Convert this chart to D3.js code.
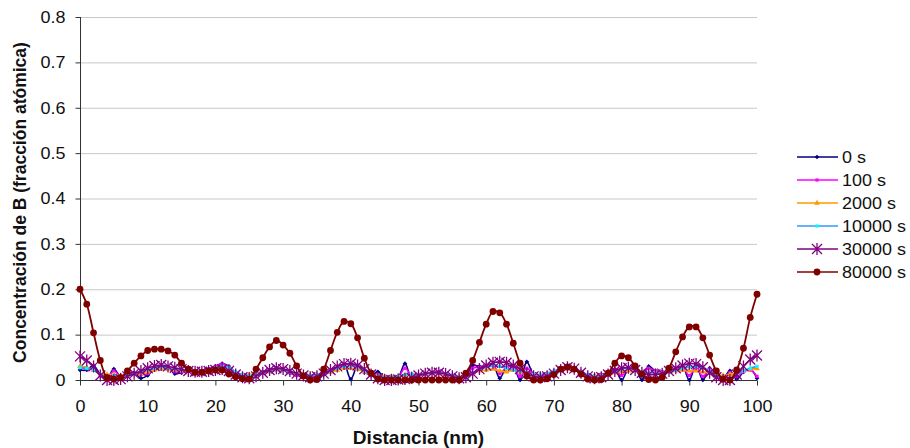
<!DOCTYPE html>
<html>
<head>
<meta charset="utf-8">
<script src="https://cdn.jsdelivr.net/npm/d3@7"></script>
<style>
  html, body { margin: 0; padding: 0; background: #fff; }
  svg { display: block; font-family: Arial, "Liberation Sans", sans-serif; }
</style>
</head>
<body>
<svg id="chart" width="910" height="448"></svg>
<script>
// Distance axis: one sample per nanometre, 0..100 nm
const distance = d3.range(0, 101);

const seriesNames = ["0 s", "100 s", "2000 s", "10000 s", "30000 s", "80000 s"];

const conc0 = [
  0.022,0.022,0.032,0.012,0.004,0.024,0.008,0.012,0.016,0.004,0.010,
  0.026,0.030,0.028,0.014,0.016,0.022,0.018,0.020,0.024,0.030,
  0.036,0.030,0.016,0.008,0.006,0.014,0.018,0.022,0.026,0.024,
  0.016,0.010,0.012,0.004,0.000,0.012,0.018,0.026,0.034,0.002,
  0.030,0.018,0.010,0.018,0.006,0.002,0.006,0.036,0.004,0.010,
  0.014,0.016,0.018,0.012,0.008,0.004,0.010,0.032,0.030,0.030,
  0.034,0.004,0.028,0.030,0.000,0.040,0.012,0.008,0.012,0.018,
  0.026,0.030,0.026,0.018,0.010,0.008,0.012,0.016,0.024,0.000,
  0.024,0.026,0.000,0.030,0.020,0.018,0.020,0.024,0.030,0.000,
  0.034,0.000,0.026,0.012,0.004,0.020,0.002,0.018,0.024,0.004
];

const conc100 = [
  0.028,0.025,0.024,0.010,0.004,0.020,0.008,0.010,0.014,0.012,0.014,
  0.024,0.028,0.026,0.018,0.018,0.020,0.018,0.020,0.024,0.030,
  0.035,0.028,0.016,0.010,0.008,0.014,0.018,0.022,0.026,0.024,
  0.016,0.010,0.012,0.006,0.004,0.014,0.020,0.026,0.034,0.034,
  0.030,0.018,0.010,0.012,0.004,0.004,0.006,0.026,0.010,0.010,
  0.014,0.016,0.018,0.014,0.010,0.006,0.008,0.026,0.028,0.030,
  0.032,0.014,0.028,0.028,0.008,0.026,0.012,0.008,0.012,0.018,
  0.026,0.030,0.026,0.018,0.010,0.008,0.012,0.014,0.022,0.010,
  0.024,0.026,0.010,0.026,0.020,0.018,0.020,0.024,0.028,0.010,
  0.030,0.008,0.024,0.012,0.006,0.016,0.008,0.018,0.022,0.008
];

const conc2000 = [
  0.030,0.028,0.022,0.012,0.012,0.012,0.010,0.010,0.012,0.014,0.018,
  0.022,0.024,0.024,0.022,0.020,0.020,0.018,0.018,0.020,0.024,
  0.028,0.024,0.016,0.012,0.012,0.014,0.016,0.018,0.022,0.022,
  0.018,0.014,0.012,0.010,0.012,0.016,0.018,0.022,0.026,0.026,
  0.024,0.018,0.012,0.010,0.008,0.008,0.008,0.012,0.012,0.012,
  0.014,0.014,0.014,0.012,0.010,0.008,0.010,0.016,0.020,0.022,
  0.024,0.020,0.018,0.022,0.018,0.016,0.012,0.012,0.014,0.018,
  0.022,0.024,0.022,0.016,0.012,0.010,0.010,0.012,0.016,0.018,
  0.020,0.020,0.016,0.016,0.016,0.016,0.018,0.020,0.022,0.020,
  0.020,0.018,0.016,0.012,0.010,0.012,0.016,0.020,0.024,0.025
];

const conc10000 = [
  0.027,0.026,0.022,0.012,0.005,0.010,0.008,0.010,0.013,0.018,0.022,
  0.026,0.028,0.027,0.024,0.022,0.020,0.018,0.019,0.022,0.027,
  0.030,0.027,0.018,0.012,0.010,0.012,0.016,0.020,0.024,0.022,
  0.018,0.014,0.011,0.010,0.012,0.016,0.020,0.026,0.030,0.031,
  0.028,0.020,0.012,0.008,0.006,0.006,0.008,0.012,0.013,0.012,
  0.014,0.015,0.016,0.014,0.010,0.007,0.008,0.016,0.024,0.028,
  0.031,0.030,0.026,0.022,0.020,0.016,0.012,0.012,0.015,0.020,
  0.026,0.028,0.025,0.018,0.012,0.008,0.009,0.013,0.018,0.024,
  0.026,0.022,0.018,0.016,0.015,0.015,0.018,0.022,0.026,0.029,
  0.030,0.027,0.020,0.012,0.006,0.004,0.012,0.020,0.026,0.030
];

const conc30000 = [
  0.052,0.043,0.030,0.010,0.000,0.000,0.002,0.008,0.014,0.020,0.026,
  0.031,0.033,0.030,0.027,0.024,0.020,0.018,0.018,0.020,0.022,
  0.024,0.020,0.012,0.006,0.004,0.008,0.016,0.022,0.026,0.024,
  0.020,0.014,0.010,0.006,0.008,0.014,0.022,0.030,0.035,0.036,
  0.032,0.024,0.012,0.004,0.000,0.000,0.001,0.002,0.005,0.010,
  0.014,0.016,0.016,0.013,0.008,0.004,0.006,0.014,0.024,0.032,
  0.038,0.040,0.038,0.032,0.024,0.014,0.008,0.006,0.008,0.014,
  0.022,0.028,0.025,0.016,0.008,0.004,0.006,0.012,0.020,0.026,
  0.027,0.022,0.016,0.012,0.012,0.014,0.020,0.026,0.032,0.036,
  0.035,0.028,0.016,0.006,0.000,0.000,0.012,0.030,0.045,0.054
];

const conc80000 = [
  0.200,0.167,0.104,0.043,0.005,0.002,0.005,0.020,0.037,0.053,0.065,
  0.068,0.068,0.064,0.055,0.037,0.024,0.017,0.017,0.020,0.022,
  0.022,0.013,0.007,0.003,0.002,0.024,0.049,0.073,0.087,0.077,
  0.059,0.031,0.009,0.000,0.001,0.024,0.065,0.105,0.129,0.124,
  0.093,0.048,0.015,0.002,0.000,0.000,0.000,0.000,0.000,0.000,
  0.000,0.000,0.000,0.000,0.000,0.000,0.015,0.043,0.083,0.123,
  0.151,0.148,0.123,0.081,0.037,0.009,0.000,0.000,0.003,0.012,
  0.024,0.029,0.024,0.013,0.002,0.000,0.001,0.015,0.037,0.053,
  0.049,0.031,0.013,0.001,0.000,0.006,0.026,0.062,0.095,0.117,
  0.117,0.093,0.055,0.020,0.002,0.000,0.022,0.070,0.138,0.189
];

const yTicks = [0, 0.1, 0.2, 0.3, 0.4, 0.5, 0.6, 0.7, 0.8];
const xTicks = [0, 10, 20, 30, 40, 50, 60, 70, 80, 90, 100];

const series = [
  { name: seriesNames[0], values: conc0,     line: "#000080", fill: "#000080", marker: "diamond" },
  { name: seriesNames[1], values: conc100,   line: "#FF00FF", fill: "#FF00FF", marker: "square" },
  { name: seriesNames[2], values: conc2000,  line: "#FF9900", fill: "#FF9900", marker: "triangle" },
  { name: seriesNames[3], values: conc10000, line: "#3399FF", fill: "#00FFFF", marker: "square" },
  { name: seriesNames[4], values: conc30000, line: "#800080", fill: "#800080", marker: "star" },
  { name: seriesNames[5], values: conc80000, line: "#800000", fill: "#800000", marker: "circle" }
];

// text in this chart is set slightly wide
const WIDE = 1.09;
const LABEL_SIZE = 16.5;
const TITLE_SIZE = 17.5;

const svg = d3.select("#chart");
const plot = { left: 80, right: 757, top: 17, bottom: 380 };

const x = d3.scaleLinear().domain([0, 100]).range([plot.left, plot.right]);
const y = d3.scaleLinear().domain([0, 0.8]).range([plot.bottom, plot.top]);

// horizontal gridlines
svg.append("g")
  .selectAll("line")
  .data(yTicks.filter(d => d > 0))
  .join("line")
  .attr("x1", plot.left).attr("x2", plot.right)
  .attr("y1", d => y(d) + 0.5).attr("y2", d => y(d) + 0.5)
  .attr("stroke", "#c8c8c8").attr("stroke-width", 1);

const fmtY = d => d === 0 ? "0" : d.toFixed(1);

const yAxis = svg.append("g")
  .attr("transform", `translate(${plot.left + 0.5},0)`)
  .call(d3.axisLeft(y).tickValues(yTicks).tickFormat(fmtY).tickSize(5).tickPadding(9));

const xAxis = svg.append("g")
  .attr("transform", `translate(0,${plot.bottom + 0.5})`)
  .call(d3.axisBottom(x).tickValues(xTicks).tickFormat(d3.format("d")).tickSize(5).tickPadding(15));

[yAxis, xAxis].forEach(g => {
  g.selectAll("path.domain").attr("stroke", "#333");
  g.selectAll(".tick line").attr("stroke", "#333");
  g.selectAll(".tick text").attr("font-size", LABEL_SIZE).attr("fill", "#111")
    .attr("font-family", "Arial, 'Liberation Sans', sans-serif");
});
// widen tick labels about their anchor
yAxis.selectAll(".tick text")
  .attr("x", -15 / WIDE)
  .attr("transform", `scale(${WIDE},1)`);
xAxis.selectAll(".tick text")
  .attr("transform", `scale(${WIDE},1)`);

yAxis.select("path.domain").attr("d", `M0,${plot.bottom}V${plot.top}`);
xAxis.select("path.domain").attr("d", `M${plot.left},0H${plot.right}`);

// axis titles
svg.append("text")
  .attr("transform", `translate(26,${(plot.top + plot.bottom) / 2 + 4}) scale(${WIDE},1) rotate(-90)`)
  .attr("text-anchor", "middle")
  .attr("font-size", TITLE_SIZE).attr("font-weight", "bold").attr("fill", "#111")
  .text("Concentración de B (fracción atómica)");

svg.append("text")
  .attr("transform", `translate(${(plot.left + plot.right) / 2},444) scale(${WIDE},1)`)
  .attr("text-anchor", "middle")
  .attr("font-size", TITLE_SIZE).attr("font-weight", "bold").attr("fill", "#111")
  .text("Distancia (nm)");

// marker drawing
function drawMarker(sel, s) {
  if (s.marker === "star") {
    const r = 5;
    const d = `M${-r},${-r}L${r},${r}M${-r},${r}L${r},${-r}M0,${-r - 1}V${r + 1}`;
    sel.append("path").attr("d", d).attr("stroke", s.fill).attr("stroke-width", 1.3).attr("fill", "none");
  } else if (s.marker === "circle") {
    sel.append("circle").attr("r", 3.4).attr("fill", s.fill);
  } else if (s.marker === "diamond") {
    sel.append("path").attr("d", d3.symbol(d3.symbolDiamond2, 14)()).attr("fill", s.fill);
  } else if (s.marker === "triangle") {
    sel.append("path").attr("d", d3.symbol(d3.symbolTriangle, 14)()).attr("fill", s.fill);
  } else {
    sel.append("rect").attr("x", -1.6).attr("y", -1.6).attr("width", 3.2).attr("height", 3.2).attr("fill", s.fill);
  }
}

const line = d3.line()
  .x((d, i) => x(distance[i]))
  .y(d => y(d))
  .curve(d3.curveCatmullRom.alpha(0.5));

const plotG = svg.append("g");
series.forEach(s => {
  const g = plotG.append("g");
  g.append("path")
    .attr("d", line(s.values))
    .attr("fill", "none")
    .attr("stroke", s.line)
    .attr("stroke-width", s.marker === "circle" ? 1.8 : 1.6);
  g.selectAll("g.m")
    .data(s.values)
    .join("g")
    .attr("class", "m")
    .attr("transform", (d, i) => `translate(${x(distance[i])},${y(d)})`)
    .each(function () { drawMarker(d3.select(this), s); });
});

// legend
const legend = svg.append("g");
series.forEach((s, i) => {
  const yy = 157 + i * 23;
  const item = legend.append("g").attr("transform", `translate(0,${yy})`);
  item.append("line").attr("x1", 797).attr("x2", 838).attr("y1", 0).attr("y2", 0)
    .attr("stroke", s.line).attr("stroke-width", 1.6);
  drawMarker(item.append("g").attr("transform", "translate(817,0)"), s);
  item.append("text")
    .attr("transform", `translate(842,0) scale(${WIDE},1)`)
    .attr("dy", "0.35em")
    .attr("font-size", LABEL_SIZE).attr("fill", "#111").text(s.name);
});
</script>
</body>
</html>
